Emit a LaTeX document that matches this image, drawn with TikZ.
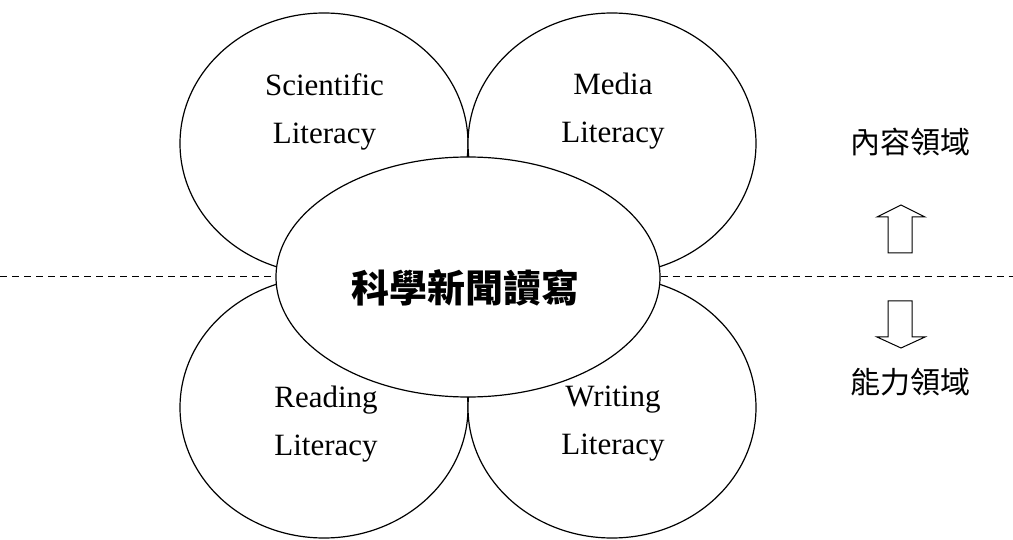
\documentclass[tikz,border=0pt]{standalone}
\usepackage{fontspec}
\setmainfont{Liberation Serif}
\newfontfamily\cjk{Noto Sans CJK TC}
\usetikzlibrary{shapes.geometric,backgrounds}
\tikzset{
  petal/.style={ellipse, draw=black, fill=white, line width=1.2pt, inner sep=0pt, minimum width=288pt, minimum height=261pt},
  core/.style={ellipse, draw=black, fill=white, line width=1.2pt, inner sep=0pt, minimum width=384pt, minimum height=240pt},
  lbl/.style={font=\fontsize{31}{48}\selectfont, align=center, inner sep=0pt},
  dom/.style={font=\cjk\fontsize{30}{36}\selectfont, inner sep=0pt, anchor=base},
  divider/.style={line width=1pt, dash pattern=on 7pt off 5pt},
  bigarrow/.style={draw=black, fill=white, line width=1pt, line join=miter}
}
\begin{document}
\begin{tikzpicture}[x=1pt,y=-1pt]
\useasboundingbox (0,0) rectangle (1013,540);
\node[petal] (sci) at (324,143.5) {};
\node[petal] (media) at (612,143.5) {};
\node[petal] (read) at (324,407.5) {};
\node[petal] (write) at (612,407.5) {};
\node[core] (center) at (468,277) {};
\coordinate (lend) at (0,277);
\coordinate (rend) at (1013,277);
\begin{scope}[on background layer]
\draw[divider] (lend) -- (center.west);
\draw[divider] (center.east) -- (rend);
\end{scope}
\node[lbl] (scit) at (324.5,111.75) {Scientific\\Literacy};
\node[lbl] (mediat) at (613,111.5) {Media\\Literacy};
\node[lbl] (readt) at (326,423.75) {Reading\\Literacy};
\node[lbl] (writet) at (613,423.75) {Writing\\Literacy};
\node[font=\cjk\bfseries\fontsize{38}{44}\selectfont, inner sep=0pt, anchor=base] (title) at (465,302.5) {科學新聞讀寫};
\node[dom] (content) at (910,154) {內容領域};
\node[dom] (ability) at (910,393) {能力領域};
\draw[bigarrow] (888,253) -- (888,217) -- (877,217) -- (901,205) -- (925,217) -- (912,217) -- (912,253) -- cycle;
\draw[bigarrow] (888,301) -- (888,337) -- (877,337) -- (901,348) -- (925,337) -- (912,337) -- (912,301) -- cycle;
\end{tikzpicture}
\end{document}
